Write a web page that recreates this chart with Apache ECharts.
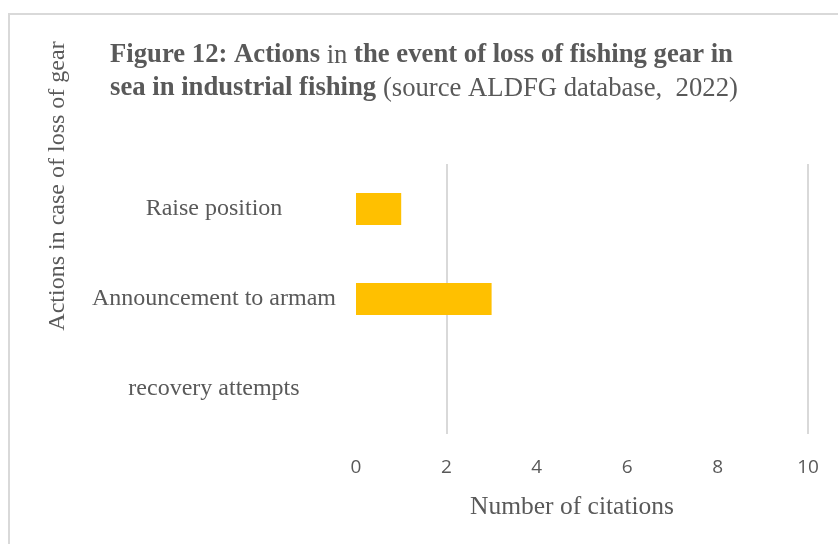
<!DOCTYPE html>
<html>
<head>
<meta charset="utf-8">
<script src="https://cdn.jsdelivr.net/npm/echarts@6/dist/echarts.min.js"></script>
<style>
  html, body { margin: 0; padding: 0; background: #fff; }
  #chart { width: 838px; height: 544px; }
</style>
</head>
<body>
<div id="chart"></div>
<script>
// data
const categories = ['recovery attempts', 'Announcement to armam', 'Raise position'];
const citations = [0, 3, 1];
const gridLineValues = [2, 10];

const serif = '"Liberation Serif", "DejaVu Serif", serif';
const textColor = '#595959';

const chart = echarts.init(document.getElementById('chart'));
chart.setOption({
  animation: false,
  graphic: [
    {
      type: 'rect',
      shape: { x: 9, y: 14, width: 840, height: 540 },
      style: { fill: 'none', stroke: '#d9d9d9', lineWidth: 2 },
      silent: true
    },
    {
      type: 'text',
      x: 58,
      y: 186,
      rotation: Math.PI / 2,
      silent: true,
      style: {
        text: 'Actions in case of loss of gear',
        fontFamily: serif,
        fontSize: 24,
        fill: textColor,
        align: 'center',
        verticalAlign: 'middle'
      }
    }
  ],
  title: {
    left: 110,
    top: 39,
    padding: 0,
    text: '{b|Figure 12: Actions }{r|in}{b| the event of loss of fishing gear in}\n{b|sea in industrial fishing }{r|(source ALDFG database,  2022)}',
    textStyle: {
      rich: {
        b: { fontFamily: serif, fontSize: 26.7, fontWeight: 'bold', color: textColor, lineHeight: 33 },
        r: { fontFamily: serif, fontSize: 26.7, fontWeight: 'normal', color: textColor, lineHeight: 33 }
      }
    }
  },
  grid: {
    left: 356,
    right: 30,
    top: 164,
    bottom: 110
  },
  xAxis: {
    type: 'value',
    min: 0,
    max: 10,
    interval: 2,
    name: 'Number of citations',
    nameLocation: 'middle',
    nameGap: 60,
    nameTextStyle: { fontFamily: serif, fontSize: 25.5, color: textColor, padding: [0, 20, 0, 0] },
    axisLine: { show: false },
    axisTick: { show: false },
    splitLine: { show: false },
    axisLabel: {
      margin: 24,
      fontFamily: '"Open Sans", "Liberation Sans", sans-serif',
      fontSize: 19,
      color: textColor
    }
  },
  yAxis: {
    type: 'category',
    data: categories,
    axisLine: { show: false },
    axisTick: { show: false },
    axisLabel: {
      margin: 142,
      align: 'center',
      fontFamily: serif,
      fontSize: 24,
      color: textColor
    }
  },
  series: [
    {
      type: 'bar',
      data: [],
      z: 1,
      markLine: {
        z: 1,
        silent: true,
        symbol: 'none',
        label: { show: false },
        lineStyle: { color: '#d9d9d9', width: 2, type: 'solid' },
        data: gridLineValues.map(v => ({ xAxis: v }))
      }
    },
    {
      type: 'bar',
      data: citations,
      barWidth: 32,
      barGap: '-100%',
      z: 10,
      itemStyle: { color: '#ffc000' }
    }
  ]
});
</script>
</body>
</html>
